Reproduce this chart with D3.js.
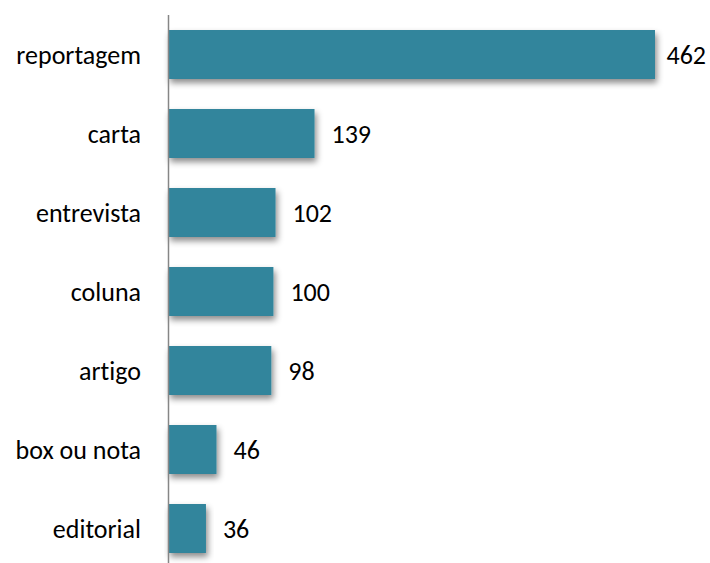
<!DOCTYPE html>
<html>
<head>
<meta charset="utf-8">
<script src="https://cdn.jsdelivr.net/npm/d3@7"></script>
<style>
  html, body { margin: 0; padding: 0; background: #fff; }
  svg { display: block; }
  text { font-family: Carlito, Lato, "Open Sans", sans-serif; fill: #000; font-variant-ligatures: none; }
</style>
</head>
<body>
<svg id="chart" width="710" height="563"></svg>
<script>
const categories = ["reportagem", "carta", "entrevista", "coluna", "artigo", "box ou nota", "editorial"];
const values = [462, 139, 102, 100, 98, 46, 36];

const width = 710, height = 563;
const margin = { left: 168, top: 15, right: 55, bottom: -5 };
const barColor = "#31859C";
const fontSize = "26px";

const svg = d3.select("#chart");

const defs = svg.append("defs");
const shadow = defs.append("filter")
  .attr("id", "barShadow")
  .attr("x", "-10%").attr("y", "-20%")
  .attr("width", "130%").attr("height", "160%");
shadow.append("feDropShadow")
  .attr("dx", 2).attr("dy", 4)
  .attr("stdDeviation", 3)
  .attr("flood-color", "#000")
  .attr("flood-opacity", 0.45);

const x = d3.scaleLinear()
  .domain([0, 462])
  .range([margin.left, 655]);

const y = d3.scaleBand()
  .domain(categories)
  .range([margin.top, height - margin.bottom])
  .paddingInner(0.38)
  .paddingOuter(0.19);

const data = categories.map((c, i) => ({ category: c, value: values[i] }));

svg.append("g")
  .selectAll("rect")
  .data(data)
  .join("rect")
  .attr("x", x(0))
  .attr("y", d => y(d.category))
  .attr("width", d => x(d.value) - x(0))
  .attr("height", y.bandwidth())
  .attr("fill", barColor)
  .attr("filter", "url(#barShadow)");

// category axis
const yAxis = svg.append("g")
  .attr("transform", `translate(${x(0)},0)`)
  .call(d3.axisLeft(y).tickSize(0).tickPadding(27));
yAxis.select(".domain")
  .attr("d", `M0.5,${margin.top}V${height + 5}`)
  .attr("stroke", "#868686")
  .attr("stroke-width", 1.5);
yAxis.selectAll("text")
  .style("font-size", fontSize)
  .style("font-family", "Carlito, Lato, 'Open Sans', sans-serif")
  .attr("dy", "0.36em")
  .attr("fill", "#000");

// value labels, kept inside the right edge
const labels = svg.append("g")
  .selectAll("text")
  .data(data)
  .join("text")
  .attr("y", d => y(d.category) + y.bandwidth() / 2)
  .attr("dy", "0.36em")
  .style("font-size", fontSize)
  .text(d => d.value);
labels.attr("x", function (d) {
  const w = this.getComputedTextLength();
  return Math.min(x(d.value) + 17, width - w - 4);
});
</script>
</body>
</html>
